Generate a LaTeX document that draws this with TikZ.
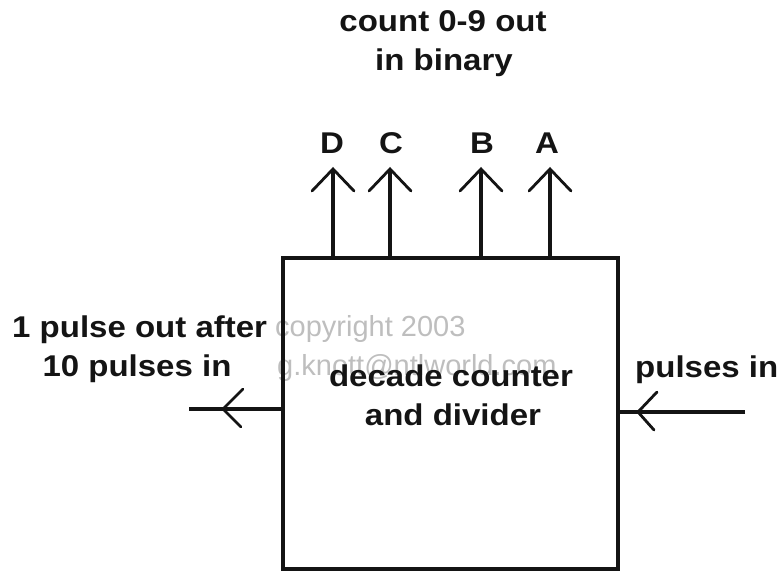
\documentclass[tikz,border=0pt]{standalone}
\usepackage{fontspec}
\usetikzlibrary{calc}
\newfontfamily\lblfont{Liberation Sans}[FakeStretch=1.1]
\newfontfamily\wmfont{Liberation Sans}
\definecolor{ink}{RGB}{20,20,20}
\definecolor{wm}{RGB}{190,190,190}
\begin{document}
\begin{tikzpicture}[x=1pt,y=-1pt,
  lbl/.style={inner sep=0pt, text=ink, font=\lblfont\bfseries\fontsize{30}{34}\selectfont},
  wmark/.style={inner sep=0pt, text=wm, font=\wmfont\fontsize{29}{32}\selectfont, anchor=base west},
  wire/.style={draw=ink, line width=3.2pt},
  barb/.style={draw=ink, line width=2.8pt, line cap=round, line join=miter}
]
\useasboundingbox (0,0) rectangle (781,571);
% watermark
\node[wmark] (wm1) at (275,336) {copyright 2003};
\node[wmark] (wm2) at (277,375) {g.knott@ntlworld.com};
% box
\node[draw=ink, line width=3.4pt, minimum width=335pt, minimum height=311pt, inner sep=0pt] (box) at (450.5,413.5) {};
% labels
\node[lbl, anchor=base] (t1) at (443,31) {count 0-9 out};
\node[lbl, anchor=base] (t2) at (444,70) {in binary};
\node[lbl, anchor=base] (lD) at (332,153) {D};
\node[lbl, anchor=base] (lC) at (391,153) {C};
\node[lbl, anchor=base] (lB) at (482,153) {B};
\node[lbl, anchor=base] (lA) at (547,153) {A};
\node[lbl, anchor=base west] (o1) at (12,337) {1 pulse out after};
\node[lbl, anchor=base] (o2) at (137,376) {10 pulses in};
\node[lbl, anchor=base west] (pin) at (635,377) {pulses in};
\node[lbl, anchor=base] (b1) at (451,386) {decade counter};
\node[lbl, anchor=base] (b2) at (453,425) {and divider};
% output arrows (up)
\foreach \n/\x in {D/333, C/390, B/481, A/550}{
  \coordinate (tip\n) at (\x,169);
  \draw[wire] (tip\n |- box.north) -- (tip\n);
  \draw[barb] ($(tip\n)+(-21,22)$) -- (tip\n) -- ($(tip\n)+(21,22)$);
}
% left output arrow
\coordinate (lend) at (189,409);
\coordinate (ltip) at (223,409);
\draw[wire] (box.west |- lend) -- (lend);
\draw[barb] ($(ltip)+(20,-20)$) -- (ltip) -- ($(ltip)+(18,18)$);
% right input arrow
\coordinate (rend) at (745,412);
\coordinate (rtip) at (638,412);
\draw[wire] (rend) -- (box.east |- rend);
\draw[barb] ($(rtip)+(19,-20)$) -- (rtip) -- ($(rtip)+(16,18)$);
\end{tikzpicture}
\end{document}
